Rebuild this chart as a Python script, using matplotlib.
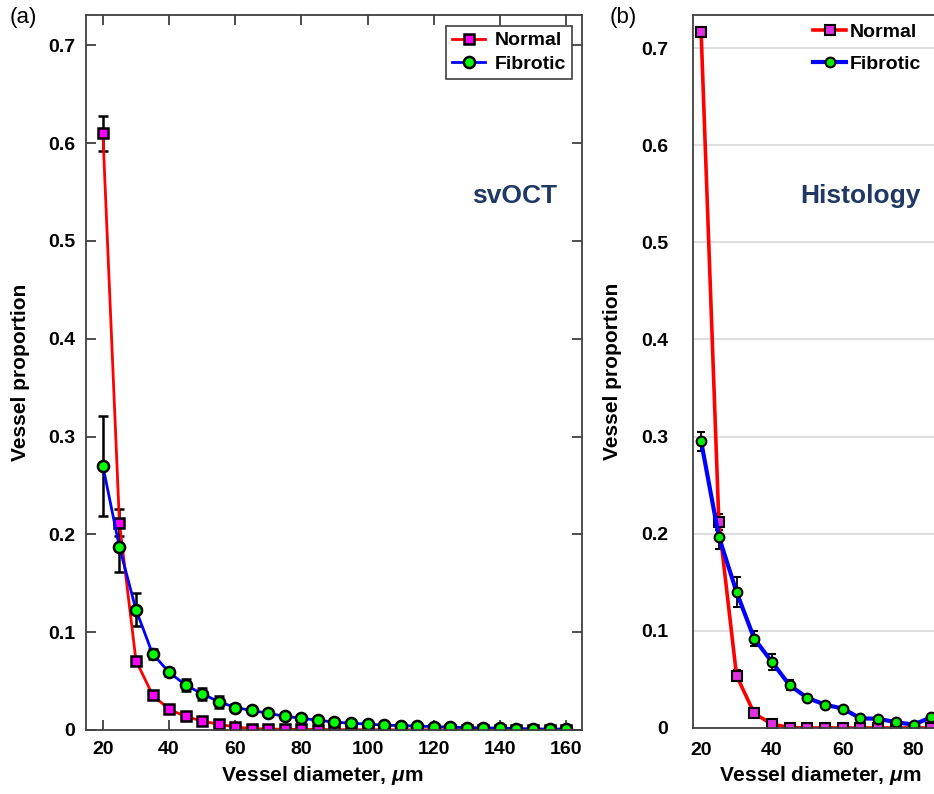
import matplotlib.pyplot as plt
from matplotlib.lines import Line2D
import numpy as np

plt.rcParams['font.family'] = ['Liberation Sans', 'DejaVu Sans']
plt.rcParams['mathtext.fontset'] = 'custom'
plt.rcParams['mathtext.it'] = 'Liberation Sans:italic:bold'
plt.rcParams['mathtext.rm'] = 'Liberation Sans:bold'

# (a) svOCT
x_a = np.arange(20, 161, 5)
normal_a = [0.610, 0.212, 0.071, 0.036, 0.021, 0.014, 0.009, 0.006, 0.003, 0.0015,
            0.001, 0.0008, 0.0006, 0.0005, 0.0004, 0.0003, 0.0003, 0.0002, 0.0002, 0.0002,
            0.0001, 0.0001, 0.0001, 0.0001, 0.0001, 0.0, 0.0, 0.0, 0.0]
normal_a_err = [0.018, 0.014, 0.004, 0.003, 0.002, 0.002, 0.001, 0.001, 0.001, 0.001,
                0.001, 0.001, 0.001, 0.001, 0.001, 0.001, 0.001, 0.001, 0.001, 0.001,
                0.001, 0.001, 0.001, 0.001, 0.001, 0.001, 0.001, 0.001, 0.001]
fibrotic_a = [0.270, 0.187, 0.123, 0.078, 0.059, 0.046, 0.037, 0.029, 0.023, 0.020,
              0.017, 0.014, 0.012, 0.010, 0.008, 0.007, 0.006, 0.005, 0.0045, 0.004,
              0.0035, 0.003, 0.0025, 0.0022, 0.002, 0.0015, 0.0012, 0.001, 0.001]
fibrotic_a_err = [0.051, 0.025, 0.017, 0.005, 0.004, 0.006, 0.006, 0.006, 0.004, 0.003,
                  0.003, 0.003, 0.003, 0.003, 0.002, 0.002, 0.002, 0.002, 0.003, 0.002,
                  0.002, 0.002, 0.002, 0.003, 0.002, 0.002, 0.002, 0.002, 0.004]

# (b) histology
x_b = np.arange(20, 86, 5)
normal_b = [0.716, 0.212, 0.054, 0.015, 0.004, 0.0005, 0, 0, 0, 0, 0, 0, 0, 0]
normal_b_err = [0.004, 0.008, 0.006, 0.002, 0.001, 0, 0, 0, 0, 0, 0, 0, 0, 0]
fibrotic_b = [0.295, 0.197, 0.140, 0.092, 0.068, 0.044, 0.031, 0.024, 0.020, 0.010,
              0.0095, 0.006, 0.0035, 0.011]
fibrotic_b_err = [0.010, 0.013, 0.015, 0.008, 0.008, 0.005, 0.002, 0.001, 0.001, 0.001,
                  0.001, 0.001, 0.001, 0.001]

y_ticks = [0, 0.1, 0.2, 0.3, 0.4, 0.5, 0.6, 0.7]
y_labels = ['0', '0.1', '0.2', '0.3', '0.4', '0.5', '0.6', '0.7']
x_ticks_a = [20, 40, 60, 80, 100, 120, 140, 160]
x_ticks_b = [20, 40, 60, 80]

fig = plt.figure(figsize=(9.34, 7.94), dpi=100)
W, H = 934, 794

def px_axes(l, t, r, b):
    return fig.add_axes([l / W, 1 - b / H, (r - l) / W, (b - t) / H])

# ---------- panel (a)
ax = px_axes(86, 15, 582, 730)
sty_n = dict(color='#ff0000', lw=2, marker='s', ms=6.5, mfc='#ff00ff', mec='k', mew=1.8)
sty_f = dict(color='#0000ff', lw=2, marker='o', ms=8, mfc='#00ff00', mec='k', mew=1.8)
ax.errorbar(x_a, normal_a, yerr=normal_a_err, ecolor='k', elinewidth=1.8, capsize=3.5,
            capthick=1.8, **sty_n)
ax.errorbar(x_a, fibrotic_a, yerr=fibrotic_a_err, ecolor='k', elinewidth=1.8, capsize=3.5,
            capthick=1.8, **sty_f)
ax.set_xlim(14.9, 164.8)
ax.set_ylim(0, 0.731)
ax.set_xticks(x_ticks_a)
ax.set_yticks(y_ticks)
ax.set_yticklabels(y_labels)
ax.tick_params(direction='in', length=7, width=1.3, color='#404040', top=True, right=True,
               labelsize=14)
ax.tick_params(axis='x', pad=8)
ax.tick_params(axis='y', pad=8)
for lab in ax.get_xticklabels() + ax.get_yticklabels():
    lab.set_fontweight('bold')
for s in ax.spines.values():
    s.set_color('#404040')
    s.set_linewidth(1.3)
ax.set_ylabel('Vessel proportion', fontsize=15, fontweight='bold')
ax.yaxis.set_label_coords(-0.113, 0.5)
ax.set_xlabel(r'Vessel diameter, $\mu$m', fontsize=15, fontweight='bold')
ax.xaxis.set_label_coords(0.476, -0.047)
fig.text(515 / W, 1 - 196 / H, 'svOCT', color='#1f3864', fontsize=19, fontweight='bold',
         ha='center', va='center')
hn = Line2D([], [], **sty_n)
hf = Line2D([], [], **sty_f)
leg = ax.legend([hn, hf], ['Normal', 'Fibrotic'], loc='upper right',
                bbox_to_anchor=(572 / W, 1 - 26 / H),
                bbox_transform=fig.transFigure, borderaxespad=0, fancybox=False,
                edgecolor='#404040', framealpha=1, handlelength=1.7, handletextpad=0.5,
                labelspacing=0.3, borderpad=0.3, prop={'size': 14, 'weight': 'bold'})
leg.get_frame().set_linewidth(1.2)
fig.text(10 / W, 1 - 7 / H, '(a)', fontsize=16, va='top', ha='left')

# ---------- panel (b)
bx = px_axes(693, 15, 693 + 291, 728)
bx.yaxis.grid(True, color='#d9d9d9', lw=1.2)
bx.set_axisbelow(True)
sty_nb = dict(color='#ff0000', lw=2.6, marker='s', ms=6.5, mfc='#e030e0', mec='k', mew=1.5)
sty_fb = dict(color='#0000ff', lw=3, marker='o', ms=7, mfc='#00ee00', mec='k', mew=1.5)
bx.errorbar(x_b, normal_b, yerr=normal_b_err, ecolor='k', elinewidth=1.3, capsize=3,
            capthick=1.3, **sty_nb)
bx.errorbar(x_b, fibrotic_b, yerr=fibrotic_b_err, ecolor='k', elinewidth=1.3, capsize=3,
            capthick=1.3, **sty_fb)
bx.set_xlim(17.7, 17.7 + 291 / 3.54)
bx.set_ylim(0, 0.734)
bx.set_xticks(x_ticks_b)
bx.set_yticks(y_ticks)
bx.set_yticklabels(y_labels)
bx.tick_params(length=0, labelsize=14)
bx.tick_params(axis='x', pad=10)
bx.tick_params(axis='y', pad=18)
for lab in bx.get_xticklabels() + bx.get_yticklabels():
    lab.set_fontweight('bold')
for s in bx.spines.values():
    s.set_color('#404040')
    s.set_linewidth(1.3)
bx.set_ylabel('Vessel proportion', fontsize=15, fontweight='bold')
bx.yaxis.set_label_coords(-0.244, 0.5)
bx.set_xlabel(r'Vessel diameter, $\mu$m', fontsize=15, fontweight='bold')
bx.xaxis.set_label_coords(0.438, -0.05)
fig.text(860 / W, 1 - 196 / H, 'Histology', color='#1f3864', fontsize=19, fontweight='bold',
         ha='center', va='center')
hnb = Line2D([], [], **sty_nb)
hfb = Line2D([], [], **sty_fb)
bx.legend([hnb, hfb], ['Normal', 'Fibrotic'], loc='upper left',
          bbox_to_anchor=(813 / W, 1 - 23 / H),
          bbox_transform=fig.transFigure, borderaxespad=0, frameon=False,
          handlelength=1.7, handletextpad=0.2, labelspacing=0.75, borderpad=0,
          prop={'size': 14, 'weight': 'bold'})
fig.text(610 / W, 1 - 7 / H, '(b)', fontsize=16, va='top', ha='left')

fig.savefig('out.png', dpi=100)
